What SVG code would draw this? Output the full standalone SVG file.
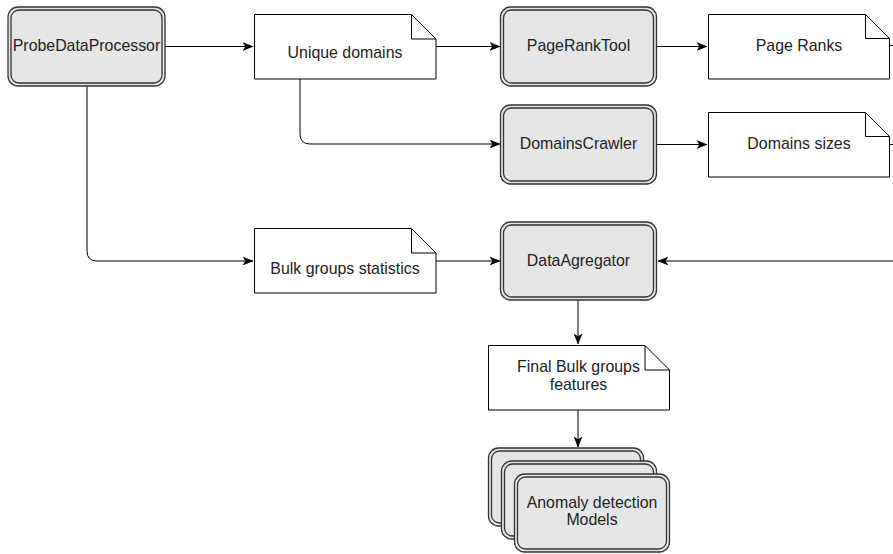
<svg xmlns="http://www.w3.org/2000/svg" width="893" height="554" viewBox="0 0 893 554">
<defs>
<marker id="arr" viewBox="0 0 10 8" refX="9.5" refY="4" markerWidth="11" markerHeight="9" markerUnits="userSpaceOnUse" orient="auto">
<path d="M0,0 L10,4 L0,8 L2.5,4 Z" fill="#000"/>
</marker>
</defs>
<style>
.proc-o{fill:#e6e6e6;stroke:#333;stroke-width:1.3}
.proc-i{fill:none;stroke:#333;stroke-width:1.3}
.note{fill:#fff;stroke:#000;stroke-width:1}
.fold{fill:none;stroke:#000;stroke-width:1}
.edge{fill:none;stroke:#000;stroke-width:1}
.arrow{marker-end:url(#arr)}
text{font-family:"Liberation Sans",Arial,sans-serif;font-size:15.9px;fill:#222;text-anchor:middle}
</style>
<g id="connectors">
<path class="edge arrow" d="M165,46.5 H253"/>
<path class="edge arrow" d="M436,46.5 H500"/>
<path class="edge arrow" d="M300,79 V134 Q300,144 310,144 H500"/>
<path class="edge arrow" d="M657,46.5 H707"/>
<path class="edge arrow" d="M657,144.5 H707"/>
<path class="edge" d="M890,45.5 H893"/>
<path class="edge" d="M890,144.5 H893"/>
<path class="edge arrow" d="M87,86 V251 Q87,261 97,261 H253"/>
<path class="edge arrow" d="M436,261 H500"/>
<path class="edge arrow" d="M893,261 H658"/>
<path class="edge arrow" d="M578,300 V344"/>
<path class="edge arrow" d="M578,410 V447"/>
</g>
<g id="ProbeDataProcessor">
<rect class="proc-o" x="8" y="7" width="157" height="79" rx="10"/>
<rect class="proc-i" x="11" y="10" width="151" height="73" rx="8"/>
<text x="86.5" y="51">ProbeDataProcessor</text>
</g>
<g id="UniqueDomains">
<path class="note" d="M254.5,14.5 H411.5 L436,39 V79 H254.5 Z"/>
<path class="fold" d="M411.5,14.5 V39 H436"/>
<text x="345" y="58">Unique domains</text>
</g>
<g id="PageRankTool">
<rect class="proc-o" x="500.5" y="7" width="156" height="79" rx="10"/>
<rect class="proc-i" x="503.5" y="10" width="150" height="73" rx="8"/>
<text x="578.5" y="51">PageRankTool</text>
</g>
<g id="DomainsCrawler">
<rect class="proc-o" x="500.5" y="105" width="156" height="79" rx="10"/>
<rect class="proc-i" x="503.5" y="108" width="150" height="73" rx="8"/>
<text x="578.5" y="148.5">DomainsCrawler</text>
</g>
<g id="PageRanks">
<path class="note" d="M708.5,14.5 H865.5 L889.5,38.5 V79 H708.5 Z"/>
<path class="fold" d="M865.5,14.5 V38.5 H889.5"/>
<text x="799" y="51">Page Ranks</text>
</g>
<g id="DomainsSizes">
<path class="note" d="M708.5,112.5 H865.5 L889.5,136.5 V177 H708.5 Z"/>
<path class="fold" d="M865.5,112.5 V136.5 H889.5"/>
<text x="799" y="149">Domains sizes</text>
</g>
<g id="BulkGroupsStatistics">
<path class="note" d="M254.5,228.5 H411.5 L436,253 V293 H254.5 Z"/>
<path class="fold" d="M411.5,228.5 V253 H436"/>
<text x="345" y="274">Bulk groups statistics</text>
</g>
<g id="DataAgregator">
<rect class="proc-o" x="500.5" y="222" width="156" height="78" rx="10"/>
<rect class="proc-i" x="503.5" y="225" width="150" height="72" rx="8"/>
<text x="578.5" y="266">DataAgregator</text>
</g>
<g id="FinalBulkGroupsFeatures">
<path class="note" d="M488.5,345.5 H645 L669.5,370 V410 H488.5 Z"/>
<path class="fold" d="M645,345.5 V370 H669.5"/>
<text x="578.5" y="372">Final Bulk groups</text>
<text x="578.5" y="390">features</text>
</g>
<g id="AnomalyDetectionModels">
<rect class="proc-o" x="488.5" y="448" width="155" height="78" rx="10"/>
<rect class="proc-i" x="491.5" y="451" width="149" height="72" rx="8"/>
<rect class="proc-o" x="501.5" y="461" width="155" height="78" rx="10"/>
<rect class="proc-i" x="504.5" y="464" width="149" height="72" rx="8"/>
<rect class="proc-o" x="514.5" y="474" width="155" height="78" rx="10"/>
<rect class="proc-i" x="517.5" y="477" width="149" height="72" rx="8"/>
<text x="592" y="508">Anomaly detection</text>
<text x="592" y="525">Models</text>
</g>
</svg>
